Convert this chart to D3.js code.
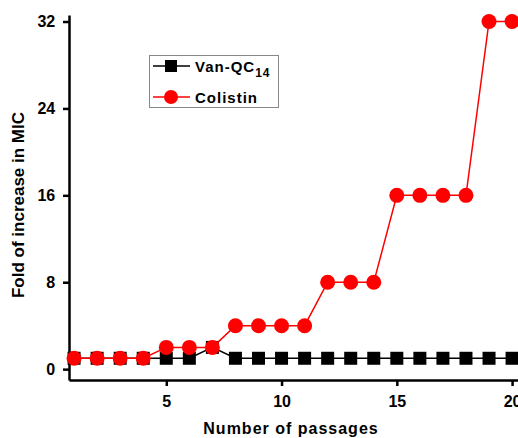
<!DOCTYPE html>
<html>
<head>
<meta charset="utf-8">
<script src="https://cdn.jsdelivr.net/npm/d3@7"></script>
<style>
  body { margin: 0; background: #fff; }
  text { font-family: "Liberation Sans", Arial, sans-serif; font-weight: bold; }
</style>
</head>
<body>
<script>
// passages and fold of increase in MIC
var passages = d3.range(1, 21);
var vanQC = [1, 1, 1, 1, 1, 1, 2, 1, 1, 1, 1, 1, 1, 1, 1, 1, 1, 1, 1, 1];
var colistin = [1, 1, 1, 1, 2, 2, 2, 4, 4, 4, 4, 8, 8, 8, 16, 16, 16, 16, 32, 32];
var yTicks = [0, 8, 16, 24, 32];
var xTicks = [5, 10, 15, 20];

var w = 518;
var h = 438;

var svg = d3.select("body")
    .append("svg")
    .attr("width", w)
    .attr("height", h);

// scales
var xScale = d3.scaleLinear()
    .domain([0.78, 20.3])
    .range([69, 519]);

var yScale = d3.scaleLinear()
    .domain([-1, 32.6])
    .range([380, 15]);

// axes
var xAxis = d3.axisBottom(xScale)
    .tickValues(xTicks)
    .tickSize(6)
    .tickSizeOuter(0);

var yAxis = d3.axisLeft(yScale)
    .tickValues(yTicks)
    .tickSize(6)
    .tickSizeOuter(0);

var gX = svg.append("g")
    .attr("transform", "translate(0," + yScale.range()[0] + ")")
    .call(xAxis);

var gY = svg.append("g")
    .attr("transform", "translate(" + xScale.range()[0] + ",0)")
    .call(yAxis);

[gX, gY].forEach(function(g) {
  g.select(".domain").attr("stroke", "#000").attr("stroke-width", 2.5);
  g.selectAll(".tick line").attr("stroke", "#000").attr("stroke-width", 2.5);
  g.selectAll(".tick text")
      .attr("fill", "#000")
      .style("font-size", "16px")
      .style("font-weight", "bold");
});
gX.selectAll(".tick text").attr("dy", "1.15em");
gY.selectAll(".tick text").attr("dx", "-0.3em");

// axis titles
svg.append("text")
    .attr("x", 291)
    .attr("y", 434)
    .attr("text-anchor", "middle")
    .style("font-size", "16px")
    .style("letter-spacing", "1px")
    .text("Number of passages");

svg.append("text")
    .attr("transform", "translate(24,205) rotate(-90)")
    .attr("text-anchor", "middle")
    .style("font-size", "17px")
    .text("Fold of increase in MIC");

// lines
var line = d3.line()
    .x(function(d) { return xScale(d[0]); })
    .y(function(d) { return yScale(d[1]); });

var vanData = passages.map(function(p, i) { return [p, vanQC[i]]; });
var colData = passages.map(function(p, i) { return [p, colistin[i]]; });

svg.append("path")
    .datum(vanData)
    .attr("d", line)
    .attr("fill", "none")
    .attr("stroke", "#000")
    .attr("stroke-width", 1.5);

svg.selectAll("rect.van")
    .data(vanData)
    .enter()
    .append("rect")
    .attr("class", "van")
    .attr("x", function(d) { return xScale(d[0]) - 6.5; })
    .attr("y", function(d) { return yScale(d[1]) - 6.5; })
    .attr("width", 13)
    .attr("height", 13)
    .attr("fill", "#000");

svg.append("path")
    .datum(colData)
    .attr("d", line)
    .attr("fill", "none")
    .attr("stroke", "#ff0000")
    .attr("stroke-width", 1.5);

svg.selectAll("circle.col")
    .data(colData)
    .enter()
    .append("circle")
    .attr("class", "col")
    .attr("cx", function(d) { return xScale(d[0]); })
    .attr("cy", function(d) { return yScale(d[1]); })
    .attr("r", 7.5)
    .attr("fill", "#ff0000");

// legend
var legend = svg.append("g");
legend.append("rect")
    .attr("x", 149.5)
    .attr("y", 55.5)
    .attr("width", 129)
    .attr("height", 52)
    .attr("fill", "#fff")
    .attr("stroke", "#888")
    .attr("stroke-width", 1);

legend.append("line")
    .attr("x1", 153).attr("x2", 190)
    .attr("y1", 66).attr("y2", 66)
    .attr("stroke", "#000").attr("stroke-width", 1.5);
legend.append("rect")
    .attr("x", 165).attr("y", 60)
    .attr("width", 12).attr("height", 12)
    .attr("fill", "#000");
var t1 = legend.append("text")
    .attr("x", 195).attr("y", 72)
    .style("font-size", "15px")
    .style("letter-spacing", "1px")
    .text("Van-QC");
t1.append("tspan")
    .attr("dy", 5)
    .style("font-size", "12px")
    .text("14");

legend.append("line")
    .attr("x1", 153).attr("x2", 190)
    .attr("y1", 97).attr("y2", 97)
    .attr("stroke", "#ff0000").attr("stroke-width", 1.5);
legend.append("circle")
    .attr("cx", 171).attr("cy", 97)
    .attr("r", 7)
    .attr("fill", "#ff0000");
legend.append("text")
    .attr("x", 195).attr("y", 103)
    .style("font-size", "15px")
    .style("letter-spacing", "1px")
    .text("Colistin");
</script>
</body>
</html>
